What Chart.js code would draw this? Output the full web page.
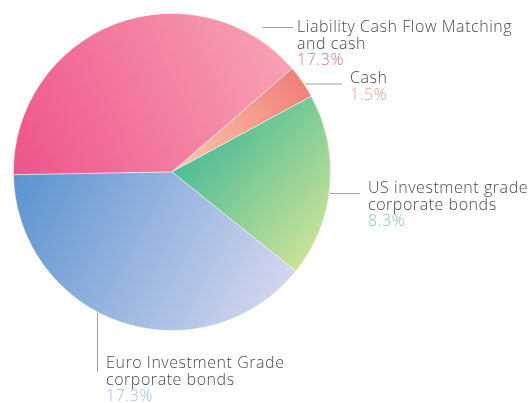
<!DOCTYPE html>
<html>
<head>
<meta charset="utf-8">
<script src="https://cdn.jsdelivr.net/npm/chart.js@4.4.1/dist/chart.umd.min.js"></script>
<style>
  html, body { margin: 0; padding: 0; background: #ffffff; }
  #wrap { position: relative; width: 531px; height: 403px; overflow: hidden; }
  canvas { position: absolute; left: 0; top: 0; }
  .lbl { position: absolute; font-family: "Open Sans", Lato, sans-serif; font-size: 16px; line-height: 16.6px; letter-spacing: 0.55px; color: #4a4a4a; white-space: nowrap; font-weight: 300; }
  .pct { display: block; }
</style>
</head>
<body>
<div id="wrap">
  <canvas id="c" width="531" height="403"></canvas>
</div>
<script>
// ---- data ----
const categories = ["Liability Cash Flow Matching and cash", "Cash", "US investment grade corporate bonds", "Euro Investment Grade corporate bonds"];
const labelLines = [["Liability Cash Flow Matching", "and cash"], ["Cash"], ["US investment grade", "corporate bonds"], ["Euro Investment Grade", "corporate bonds"]];
const values = [17.3, 1.5, 8.3, 17.3];
const valueLabels = ["17.3%", "1.5%", "8.3%", "17.3%"];

// ---- styles ----
const gradientStops = [
  ["#ee5088", "#f7a3b3"],
  ["#fcc3aa", "#ef7a77"],
  ["#45b995", "#dbe898"],
  ["#5a92cf", "#d6d9f0"]
];
// gradient direction as fractions of the chart area [x0,y0,x1,y1]
const gradientDirs = [
  [0.0, 0.6, 0.9, 0.2],
  [0.55, 0.5, 0.95, 0.2],
  [0.5, 0.45, 0.95, 0.85],
  [0.0, 0.5, 0.85, 0.95]
];
const pctColors = ["#ef6a9a", "#f7a386", "#86caab", "#a3bde6"];
// label layout: text box left/top, leader line [x0,y0,x1,y1]
const labelLayout = [
  { left: 297, top: 18, line: [263, 27.5, 293, 27.5] },
  { left: 350, top: 69, line: [305, 84, 342, 84] },
  { left: 368, top: 179, line: [330, 193.5, 360, 193.5] },
  { left: 106, top: 354, line: [97.5, 313, 97.5, 372] }
];

function makeGradient(chart, i) {
  const a = chart.chartArea;
  if (!a) return gradientStops[i][0];
  const d = gradientDirs[i];
  const w = a.right - a.left, h = a.bottom - a.top;
  const g = chart.ctx.createLinearGradient(a.left + d[0] * w, a.top + d[1] * h, a.left + d[2] * w, a.top + d[3] * h);
  g.addColorStop(0, gradientStops[i][0]);
  g.addColorStop(1, gradientStops[i][1]);
  return g;
}

const leaderPlugin = {
  id: 'leaders',
  afterDraw(chart) {
    const ctx = chart.ctx;
    ctx.save();
    ctx.strokeStyle = '#a0a0a0';
    ctx.lineWidth = 1;
    labelLayout.forEach(l => {
      ctx.beginPath();
      ctx.moveTo(l.line[0], l.line[1]);
      ctx.lineTo(l.line[2], l.line[3]);
      ctx.stroke();
    });
    ctx.restore();
  }
};

new Chart(document.getElementById('c'), {
  type: 'pie',
  data: {
    labels: categories,
    datasets: [{
      data: values,
      backgroundColor: (ctx) => makeGradient(ctx.chart, ctx.dataIndex),
      borderColor: 'rgba(255,255,255,0.6)',
      borderWidth: 0.8
    }]
  },
  options: {
    responsive: false,
    animation: false,
    rotation: 269,
    layout: { padding: { left: 13, top: 13, right: 200, bottom: 72 } },
    plugins: { legend: { display: false }, tooltip: { enabled: false } }
  },
  plugins: [leaderPlugin]
});

// HTML labels
const wrap = document.getElementById('wrap');
labelLayout.forEach((l, i) => {
  const div = document.createElement('div');
  div.className = 'lbl';
  div.style.left = l.left + 'px';
  div.style.top = l.top + 'px';
  div.innerHTML = labelLines[i].map(s => '<span class="pct">' + s + '</span>').join('') +
    '<span class="pct" style="color:' + pctColors[i] + '">' + valueLabels[i] + '</span>';
  wrap.appendChild(div);
});
</script>
</body>
</html>
